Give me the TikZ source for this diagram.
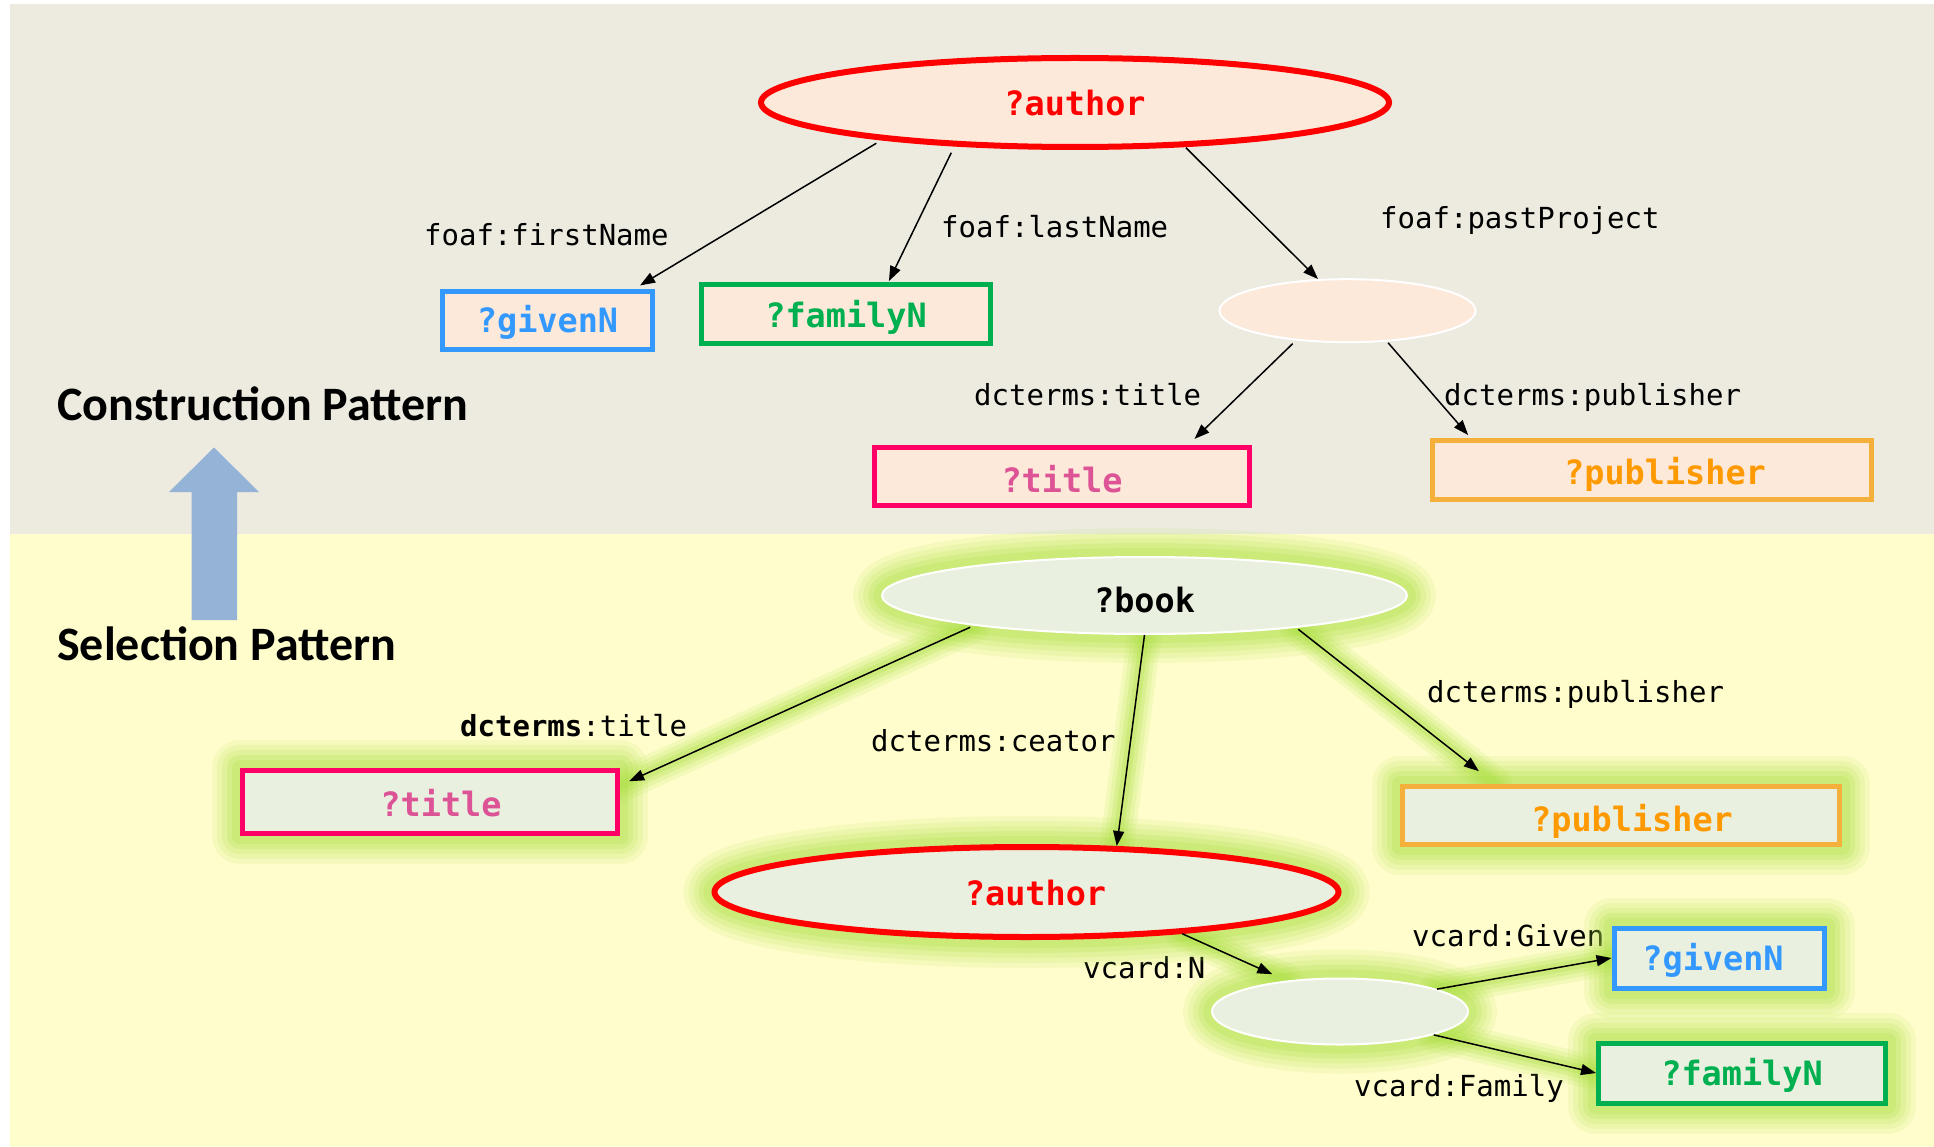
\documentclass[tikz,border=0pt]{standalone}
\usepackage{fontspec}
\usetikzlibrary{shapes.geometric,arrows.meta}
\newfontfamily\monof{DejaVu Sans Mono}
\newfontfamily\headf{Carlito}

\definecolor{topbg}{HTML}{EDEBE0}
\definecolor{botbg}{HTML}{FEFDCB}
\definecolor{peach}{HTML}{FDE9D9}
\definecolor{sage}{HTML}{EAF0DF}
\definecolor{cred}{HTML}{FF0000}
\definecolor{cblue}{HTML}{3399FF}
\definecolor{cgreen}{HTML}{00B050}
\definecolor{cpink}{HTML}{FF0066}
\definecolor{cpinktext}{HTML}{DC5396}
\definecolor{corange}{HTML}{F5B03B}
\definecolor{corangetext}{HTML}{FF9900}
\definecolor{upblue}{HTML}{95B3D7}
\definecolor{glowc}{HTML}{A8E03C}

\pgfdeclarelayer{bg}
\pgfdeclarelayer{glow}
\pgfsetlayers{bg,glow,main}

% horizontal offset of a term inside its shape
\newcommand{\rpush}[1]{\hspace*{#1pt}}

\tikzset{
  lbl/.style={font=\monof\fontsize{29}{34}\selectfont, anchor=base west, inner sep=0pt},
  term/.style={font=\monof\bfseries\fontsize{33.5}{40}\selectfont, text height=35pt, text depth=3pt, inner sep=0pt},
  raised/.style={text height=#1pt},
  varbox/.style={term, rectangle, line width=5pt},
  varell/.style={term, ellipse, line width=6pt, draw=cred, text=cred},
  blank/.style={ellipse, draw=white, line width=2pt, inner sep=0pt},
  link/.style={-{Triangle[length=15pt,width=11pt]}, line width=1.5pt},
  heading/.style={font=\headf\bfseries\fontsize{48}{57}\selectfont, anchor=base west, inner sep=0pt},
  halo/.style={draw=glowc, line join=round, line cap=round},
}

\begin{document}
\begin{tikzpicture}[x=1pt,y=-1pt]
\useasboundingbox (0,0) rectangle (1934,1147);

% ---------- construction pattern ----------
\node[varell, raised=29, fill=peach, minimum width=628, minimum height=89] (tauthor) at (1075,102.5) {?author};
\node[varbox, raised=27, draw=cblue, text=cblue, fill=peach, minimum width=210, minimum height=58] (tgiven) at (547.5,320.5) {?givenN};
\node[varbox, raised=29, draw=cgreen, text=cgreen, fill=peach, minimum width=289, minimum height=59] (tfamily) at (846,314) {?familyN};
\node[blank, fill=peach, minimum width=256, minimum height=63] (tproj) at (1347.5,310.7) {};
\node[varbox, draw=cpink, text=cpinktext, fill=peach, minimum width=375, minimum height=58] (ttitle) at (1062,476.3) {?title};
\node[varbox, raised=33, draw=corange, text=corangetext, fill=peach, minimum width=439, minimum height=59] (tpub) at (1652,469.7) {\rpush{26}?publisher};

\draw[link, shorten <=6pt, shorten >=7pt] (tauthor.191.4) -- (tgiven.20);
\draw[link, shorten <=7pt, shorten >=1pt] (tauthor.200.7) -- (tfamily.37.3);
\draw[link, shorten <=1pt] (tauthor.338.4) -- (tproj.133);
\draw[link, shorten <=4.5pt, shorten >=8.5pt] (tproj.210.6) -- (ttitle.14.1);
\draw[link, shorten <=1.5pt, shorten >=3.5pt] (tproj.322.7) -- (tpub.170.4);

% ---------- selection pattern ----------
\node[term, raised=36, ellipse, draw=white, line width=2pt, fill=sage, minimum width=525, minimum height=77] (book) at (1144.5,595.5) {?book};
\node[varbox, raised=31, draw=cpink, text=cpinktext, fill=sage, minimum width=375, minimum height=63] (btitle) at (430,802) {\rpush{22}?title};
\node[varbox, draw=corange, text=corangetext, fill=sage, minimum width=437, minimum height=58] (bpub) at (1621,815) {\rpush{22}?publisher};
\node[varell, raised=29, fill=sage, minimum width=624, minimum height=90] (bauthor) at (1026.5,892) {\rpush{18}?author};
\node[blank, fill=sage, minimum width=256, minimum height=66] (bname) at (1340,1011.5) {};
\node[varbox, raised=28, draw=cblue, text=cblue, fill=sage, minimum width=210, minimum height=60] (bgiven) at (1719,958) {?givenN\rpush{12}};
\node[varbox, raised=28, draw=cgreen, text=cgreen, fill=sage, minimum width=287, minimum height=60] (bfamily) at (1742,1073) {?familyN};

\draw[link, shorten <=4pt, shorten >=10pt] (book.190.9) -- (btitle.5.2);
\draw[link] (book.south) -- (bauthor.27.8);
\draw[link, shorten <=2.5pt, shorten >=20pt] (book.348.2) -- (bpub.166.4);
\draw[link, shorten >=15.5pt] (bauthor.345.7) -- (bname.150.3);
\draw[link] (bname.13.9) -- (bgiven.west);
\draw[link] (bname.346.1) -- (bfamily.west);

% ---------- soft green halo behind the selection pattern ----------
\begin{pgfonlayer}{glow}
  \foreach \w/\o in {56/0.1, 46/0.12, 36/0.15, 26/0.18, 16/0.22} {
    \draw[halo, line width=\w pt, opacity=\o] (book.center) ellipse [x radius=263.5, y radius=39.5];
    \draw[halo, line width=\w pt, opacity=\o] (bauthor.center) ellipse [x radius=315, y radius=48];
    \draw[halo, line width=\w pt, opacity=\o] (bname.center) ellipse [x radius=129, y radius=34];
    \draw[halo, line width=\w pt, opacity=\o] (btitle.north west) rectangle (btitle.south east);
    \draw[halo, line width=\w pt, opacity=\o] (bpub.north west) rectangle (bpub.south east);
    \draw[halo, line width=\w pt, opacity=\o] (bgiven.north west) rectangle (bgiven.south east);
    \draw[halo, line width=\w pt, opacity=\o] (bfamily.north west) rectangle (bfamily.south east);
  }
  \foreach \w/\o in {34/0.12, 26/0.15, 18/0.2, 10/0.25} {
    \draw[halo, line width=\w pt, opacity=\o] (book.190.9) -- (btitle.5.2);
    \draw[halo, line width=\w pt, opacity=\o] (book.south) -- (bauthor.27.8);
    \draw[halo, line width=\w pt, opacity=\o] (book.348.2) -- (bpub.166.4);
    \draw[halo, line width=\w pt, opacity=\o] (bauthor.345.7) -- (bname.150.3);
    \draw[halo, line width=\w pt, opacity=\o] (bname.13.9) -- (bgiven.west);
    \draw[halo, line width=\w pt, opacity=\o] (bname.346.1) -- (bfamily.west);
  }
\end{pgfonlayer}

% ---------- panels, headings, edge labels ----------
\begin{pgfonlayer}{bg}
  \fill[topbg] (10,4) rectangle (1934,534);
  \fill[botbg] (10,534) rectangle (1934,1147);
  \fill[upblue] (191.5,620) -- (191.5,492) -- (169,492) -- (214,447.5)
               -- (259,492) -- (237,492) -- (237,620) -- cycle;

  \node[heading] (hconst) at (57,420) {Construction Pattern};
  \node[heading] (hsel) at (57,660) {Selection Pattern};

  \node[lbl] (l1) at (424,246) {foaf:firstName};
  \node[lbl] (l2) at (941,237.5) {foaf:lastName};
  \node[lbl] (l3) at (1380,229) {foaf:pastProject};
  \node[lbl] (l4) at (974,405) {dcterms:title};
  \node[lbl] (l5) at (1444,405) {dcterms:publisher};

  \node[lbl] (l6) at (460,736) {\textbf{dcterms}:title};
  \node[lbl] (l7) at (871,751) {dcterms:ceator};
  \node[lbl] (l8) at (1427,702) {dcterms:publisher};
  \node[lbl] (l9) at (1412,946) {vcard:Given};
  \node[lbl] (l10) at (1083,978) {vcard:N};
  \node[lbl] (l11) at (1354,1096) {vcard:Family};
\end{pgfonlayer}
\end{tikzpicture}
\end{document}
